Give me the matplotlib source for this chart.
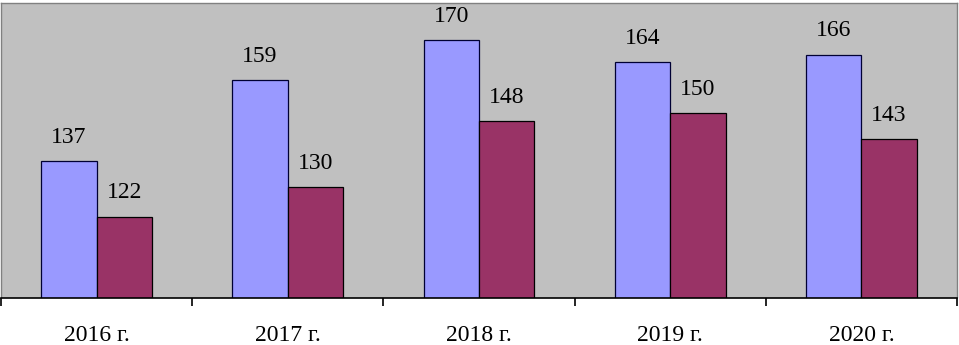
import matplotlib
matplotlib.use("Agg")
import matplotlib.pyplot as plt
import numpy as np

# data
years = ["2016 г.", "2017 г.", "2018 г.", "2019 г.", "2020 г."]
series_a = [137, 159, 170, 164, 166]
series_b = [122, 130, 148, 150, 143]

plt.rcParams['font.family'] = ['Liberation Serif', 'DejaVu Serif']

W, H = 959, 345
fig = plt.figure(figsize=(W / 100, H / 100), dpi=100)
ax = fig.add_axes([1 / W, (H - 297.5) / H, 956 / W, (297.5 - 3) / H])
ax.set_facecolor('#C0C0C0')

x = np.arange(len(years))
w = 0.29
bars_a = ax.bar(x - w / 2, series_a, w, color='#9999FF', edgecolor='#000033', linewidth=0.9)
bars_b = ax.bar(x + w / 2, series_b, w, color='#993366', edgecolor='#000000', linewidth=0.9)

for bars, vals in ((bars_a, series_a), (bars_b, series_b)):
    for b, v in zip(bars, vals):
        ax.annotate(str(v), (b.get_x() + b.get_width() / 2, v),
                    xytext=(0, 13), textcoords='offset points',
                    ha='center', va='baseline', fontsize=17)

ax.set_xlim(-0.5, len(years) - 0.5)
ax.set_ylim(100, 180)
ax.set_yticks([])

ax.set_xticks(x)
ax.set_xticklabels(years, fontsize=17)
ax.tick_params(axis='x', which='major', length=0, pad=19.5)
ax.set_xticks(np.arange(len(years) + 1) - 0.5, minor=True)
ax.tick_params(axis='x', which='minor', length=6, width=1.2, color='black', direction='out')

for s in ('left', 'right', 'top'):
    ax.spines[s].set_color('#808080')
    ax.spines[s].set_linewidth(1.0)
ax.spines['bottom'].set_color('black')
ax.spines['bottom'].set_linewidth(1.2)

fig.savefig('out.png', dpi=100, facecolor='white')
